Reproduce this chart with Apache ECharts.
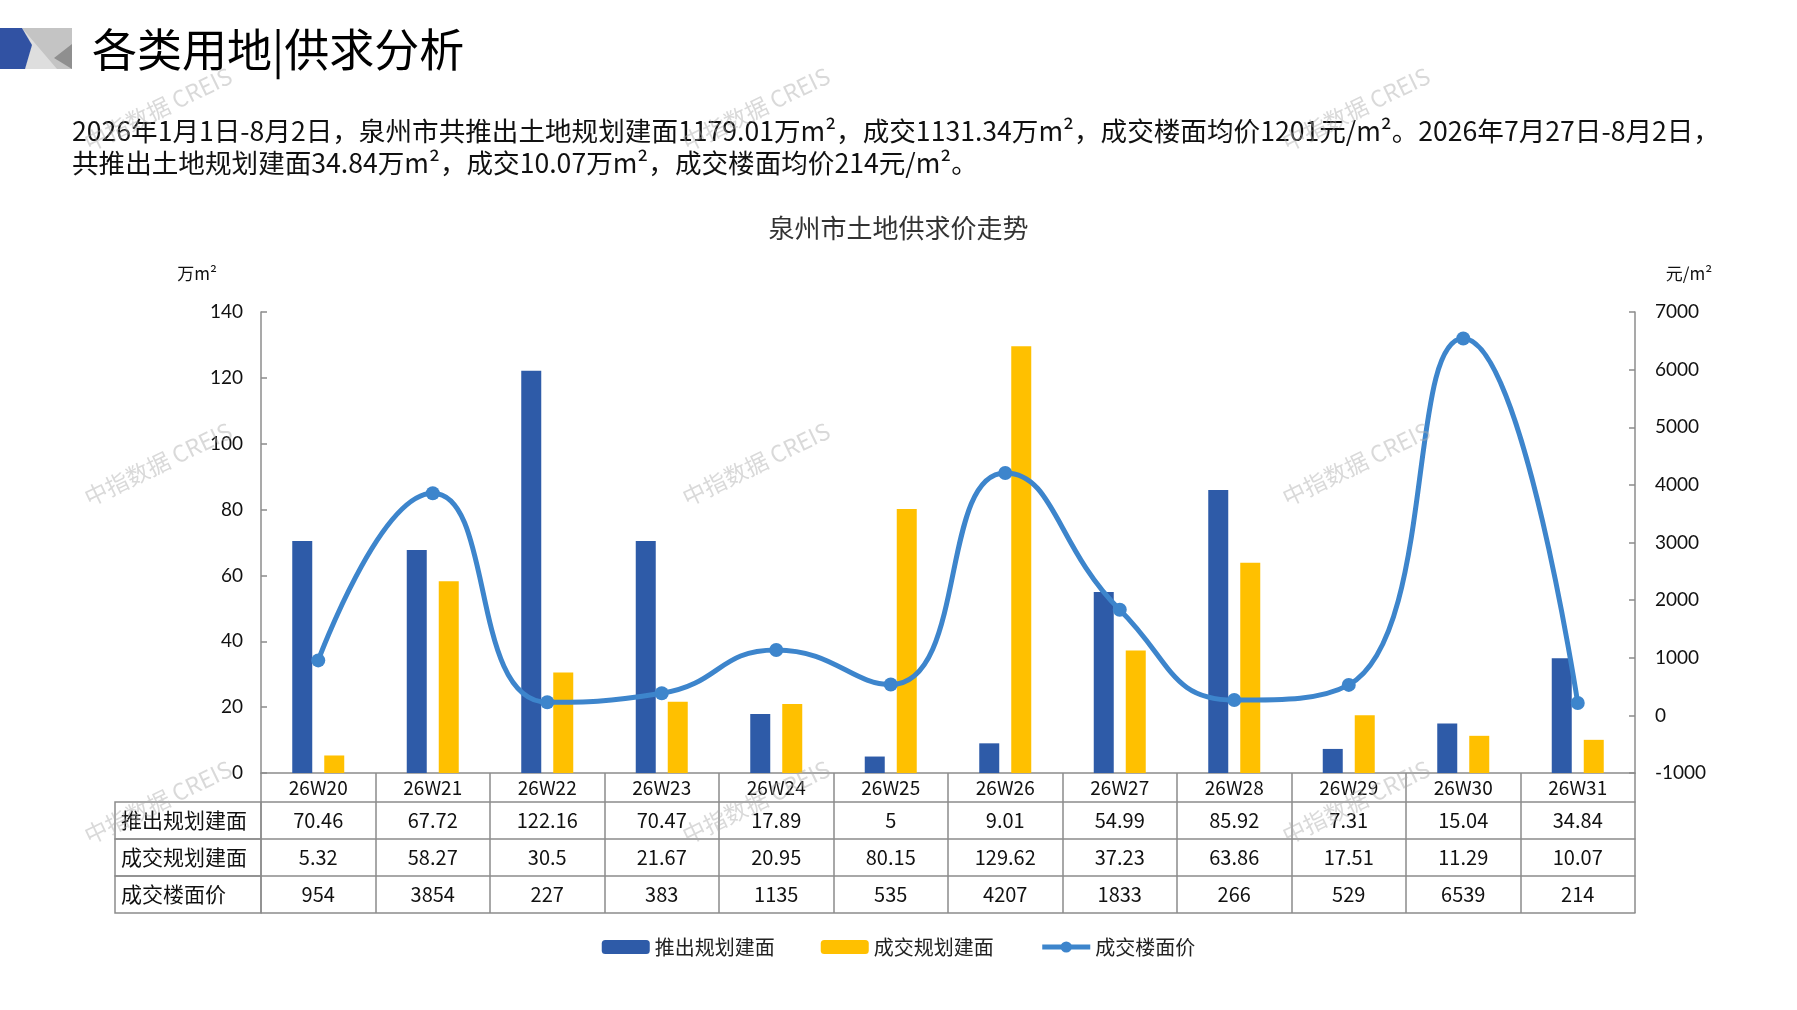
<!DOCTYPE html>
<html>
<head>
    <meta charset="utf-8">
    <title>泉州市土地供求价走势</title>
    <style>
        html,body{margin:0;padding:0;background:#fff;}
        #main{width:1797px;height:1010px;}
    </style>
</head>
<body>
<div id="main"></div>
<script src="https://cdn.jsdelivr.net/npm/echarts@6/dist/echarts.min.js"></script>
<script type="text/javascript">
    // 周次
    var weeks = ['26W20','26W21','26W22','26W23','26W24','26W25','26W26','26W27','26W28','26W29','26W30','26W31'];
    // 推出规划建面（万㎡）
    var pushArea = [70.46, 67.72, 122.16, 70.47, 17.89, 5, 9.01, 54.99, 85.92, 7.31, 15.04, 34.84];
    // 成交规划建面（万㎡）
    var dealArea = [5.32, 58.27, 30.5, 21.67, 20.95, 80.15, 129.62, 37.23, 63.86, 17.51, 11.29, 10.07];
    // 成交楼面价（元/㎡）
    var dealPrice = [954, 3854, 227, 383, 1135, 535, 4207, 1833, 266, 529, 6539, 214];
    var rowNames = ['推出规划建面', '成交规划建面', '成交楼面价'];

    var cjk = '"Noto Sans CJK SC", sans-serif';
    var gridLine = '#8c8c8c';
    var blue = '#2e5ba8', yellow = '#ffc000', lineBlue = '#3d85cc';
    var cellFont = 20, headFont = 21;

    var myChart = echarts.init(document.getElementById('main'));

    // 表格的一行：用同一类目轴向下偏移
    function tableRow(idx, values) {
        var name = rowNames[idx];
        return {
            type: 'category',
            data: weeks,
            position: 'bottom',
            offset: 29 + idx * 37,
            axisLine: {show: true, onZero: false, lineStyle: {color: gridLine, width: 1.5}},
            axisTick: {show: true, interval: 0, length: 37, lineStyle: {color: gridLine, width: 1.5}},
            axisLabel: {
                interval: 0, margin: 8, fontSize: cellFont, color: '#111', fontFamily: cjk,
                formatter: function (v, i) { return String(values[i]); }
            },
            name: name,
            nameLocation: 'start',
            nameGap: 146,
            nameMoveOverlap: false,
            nameTextStyle: {
                align: 'left', verticalAlign: 'top',
                height: 37, lineHeight: 37,
                padding: [0, 146 - 6 - headFont * name.length, 0, 6],
                fontSize: headFont, color: '#111', fontFamily: cjk,
                borderColor: gridLine, borderWidth: 1.5
            }
        };
    }

    // 水印
    var marks = [];
    [[158, 109], [756, 109], [1356, 109], [158, 464], [756, 464], [1356, 464], [158, 802], [756, 802], [1356, 802]].forEach(function (p) {
        marks.push({
            type: 'text', x: p[0], y: p[1], rotation: 0.45, z: 100, silent: true,
            style: {text: '中指数据 CREIS', fill: 'rgba(170,170,170,0.45)', font: '23px ' + cjk, align: 'center', verticalAlign: 'middle'}
        });
    });

    var option = {
        backgroundColor: '#fff',
        animation: false,
        title: {
            text: '泉州市土地供求价走势',
            left: 'center',
            top: 210,
            textStyle: {fontSize: 26, fontWeight: 'normal', color: '#333', fontFamily: cjk}
        },
        legend: {
            left: 'center',
            top: 932,
            itemWidth: 48,
            itemHeight: 14,
            itemGap: 46,
            textStyle: {fontSize: 20, color: '#222', fontFamily: cjk},
            data: [
                '推出规划建面',
                '成交规划建面',
                {name: '成交楼面价', lineStyle: {width: 5}}
            ]
        },
        grid: {left: 261, right: 162, top: 312, bottom: 237, containLabel: false},
        xAxis: [
            {
                type: 'category',
                data: weeks,
                position: 'bottom',
                axisLine: {show: true, onZero: false, lineStyle: {color: gridLine, width: 1.5}},
                axisTick: {show: true, interval: 0, length: 29, lineStyle: {color: gridLine, width: 1.5}},
                axisLabel: {interval: 0, margin: 5, fontSize: 19, color: '#111', fontFamily: cjk}
            },
            tableRow(0, pushArea),
            tableRow(1, dealArea),
            tableRow(2, dealPrice),
            {
                type: 'category',
                data: weeks,
                position: 'bottom',
                offset: 29 + 3 * 37,
                axisLine: {show: true, onZero: false, lineStyle: {color: gridLine, width: 1.5}},
                axisTick: {show: false},
                axisLabel: {show: false}
            }
        ],
        yAxis: [
            {
                type: 'value',
                min: 0, max: 140, interval: 20,
                name: '万m²',
                nameLocation: 'end',
                nameGap: 30,
                nameTextStyle: {fontSize: 17, color: '#111', fontFamily: cjk, padding: [0, 128, 0, 0]},
                axisLine: {show: true, lineStyle: {color: gridLine, width: 1.5}},
                axisTick: {show: true, inside: true, length: 6, lineStyle: {color: gridLine, width: 1.5}},
                axisLabel: {margin: 18, fontSize: 19, color: '#111', fontFamily: 'Lato, sans-serif'},
                splitLine: {show: false}
            },
            {
                type: 'value',
                min: -1000, max: 7000, interval: 1000,
                name: '元/m²',
                nameLocation: 'end',
                nameGap: 30,
                nameTextStyle: {fontSize: 17, color: '#111', fontFamily: cjk, padding: [0, 0, 0, 108]},
                axisLine: {show: true, lineStyle: {color: gridLine, width: 1.5}},
                axisTick: {show: true, inside: true, length: 6, lineStyle: {color: gridLine, width: 1.5}},
                axisLabel: {
                    margin: 20, fontSize: 19, color: '#111', fontFamily: 'Lato, sans-serif',
                    formatter: function (v) { return String(v); }
                },
                splitLine: {show: false}
            }
        ],
        series: [
            {
                name: '推出规划建面', type: 'bar', data: pushArea,
                barWidth: 20, barGap: '60%',
                itemStyle: {color: blue}
            },
            {
                name: '成交规划建面', type: 'bar', data: dealArea,
                barWidth: 20,
                itemStyle: {color: yellow}
            },
            {
                name: '成交楼面价', type: 'line', yAxisIndex: 1, data: dealPrice,
                smooth: 0.5,
                symbol: 'circle', symbolSize: 14,
                lineStyle: {color: lineBlue, width: 5},
                itemStyle: {color: lineBlue}
            }
        ],
        graphic: [
            // 左上角标志
            {type: 'polygon', shape: {points: [[22, 28], [72, 28], [72, 69], [25, 69], [32, 45]]}, style: {fill: '#c4c4c4'}},
            {type: 'polygon', shape: {points: [[22, 28], [32, 45], [25, 69], [57, 69]]}, style: {fill: '#dedede'}},
            {type: 'polygon', shape: {points: [[72, 44], [72, 69], [54, 58]]}, style: {fill: '#8f8f8f'}},
            {type: 'polygon', shape: {points: [[0, 28], [22, 28], [32, 45], [25, 69], [0, 69]]}, style: {fill: '#3152a3'}},
            {
                type: 'text', x: 92, y: 50,
                style: {text: '各类用地|供求分析', font: '45px ' + cjk, fill: '#000', verticalAlign: 'middle'}
            },
            {
                type: 'text', x: 72, y: 131,
                style: {text: '2026年1月1日-8月2日，泉州市共推出土地规划建面1179.01万m²，成交1131.34万m²，成交楼面均价1201元/m²。2026年7月27日-8月2日，', font: '26.6px ' + cjk, fill: '#111', verticalAlign: 'middle'}
            },
            {
                type: 'text', x: 72, y: 163,
                style: {text: '共推出土地规划建面34.84万m²，成交10.07万m²，成交楼面均价214元/m²。', font: '26.6px ' + cjk, fill: '#111', verticalAlign: 'middle'}
            }
        ].concat(marks)
    };

    myChart.setOption(option);
</script>
</body>
</html>
